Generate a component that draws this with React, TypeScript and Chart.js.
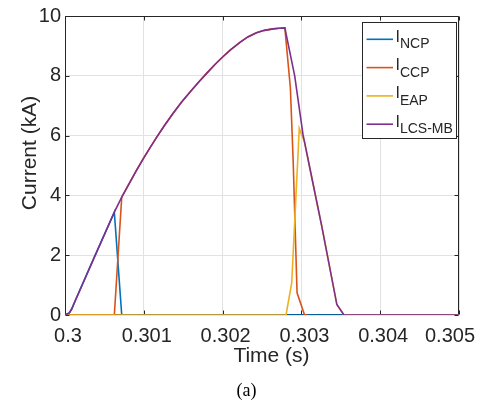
import React, { useEffect, useRef } from "react";
import { Chart, registerables } from "chart.js";

Chart.register(...registerables);

// ---- Data ----
const xTicks = [0.3, 0.301, 0.302, 0.303, 0.304, 0.305];
const xTickLabels = ["0.3", "0.301", "0.302", "0.303", "0.304", "0.305"];
const yTicks = [0, 2, 4, 6, 8, 10];

const legendMain = "I";
const seriesNames = ["NCP", "CCP", "EAP", "LCS-MB"];
const seriesColors = ["#0072BD", "#D95319", "#EDB120", "#7E2F8E"];

// common start of the current rise (all devices conducting)
const tStart = [0.3, 0.300055, 0.300085, 0.300127, 0.30036, 0.300626];
const iStart = [0, 0.07, 0.2, 0.46, 1.86, 3.44];

// common rising arc up to the peak
const tArc = [0.30072, 0.3008, 0.3009, 0.30099, 0.30108, 0.30116, 0.30126, 0.30137, 0.30148, 0.30159, 0.3017, 0.3018, 0.3019, 0.302, 0.3021, 0.30222, 0.30232, 0.30243, 0.30253, 0.30264, 0.30272, 0.30279];
const iArc = [3.94, 4.33, 4.8, 5.21, 5.6, 5.93, 6.33, 6.74, 7.12, 7.47, 7.8, 8.09, 8.37, 8.63, 8.87, 9.12, 9.3, 9.44, 9.52, 9.57, 9.59, 9.6];

// I_NCP (after the start)
const tNCPTail = [0.30072, 0.305];
const iNCPTail = [0, 0];

// I_CCP
const tCCPHead = [0.3, 0.300626];
const iCCPHead = [0, 0];
const tCCPTail = [0.30286, 0.302895, 0.302945, 0.30304, 0.30308];
const iCCPTail = [7.6, 5.2, 0.74, 0, 0];

// I_EAP
const tEAP = [0.3, 0.302805, 0.302877, 0.302973, 0.30304, 0.30314, 0.30326, 0.30345, 0.30354, 0.305];
const iEAP = [0, 0, 1.07, 6.24, 5.78, 4.49, 2.95, 0.35, 0, 0];

// I_LCS-MB (after the peak)
const tLCSTail = [0.302915, 0.30302, 0.30314, 0.30326, 0.30345, 0.30354, 0.305];
const iLCSTail = [8.0, 6.04, 4.49, 2.95, 0.35, 0, 0];

const xTitle = "Time (s)";
const yTitle = "Current (kA)";
const caption = "(a)";

const SANS = "'Liberation Sans', Arial, Helvetica, sans-serif";
const SERIF = "'Liberation Serif', 'Times New Roman', serif";
const INK = "#262626";

const toPts = (t: number[], v: number[]) => t.map((x, k) => ({ x, y: v[k] }));

const decorPlugin = {
  id: "decor",
  beforeDatasetsDraw(chart: any) {
    const { ctx, chartArea: a, scales } = chart;
    const L = Math.round(a.left) + 0.5;
    const R = Math.round(a.right) - 0.5;
    const T = Math.round(a.top) + 0.5;
    const B = Math.round(a.bottom) - 0.5;
    ctx.save();
    ctx.strokeStyle = INK;
    ctx.lineWidth = 1;
    ctx.beginPath();
    ctx.rect(L, T, R - L, B - T);
    xTicks.forEach((v) => {
      const p = Math.round(scales.x.getPixelForValue(v)) + 0.5;
      ctx.moveTo(p, B);
      ctx.lineTo(p, B - 4);
      ctx.moveTo(p, T);
      ctx.lineTo(p, T + 4);
    });
    yTicks.forEach((v) => {
      const p = Math.round(scales.y.getPixelForValue(v)) + 0.5;
      ctx.moveTo(L, p);
      ctx.lineTo(L + 4, p);
      ctx.moveTo(R, p);
      ctx.lineTo(R - 4, p);
    });
    ctx.stroke();
    ctx.restore();
  },
  afterDraw(chart: any) {
    const { ctx, scales, width } = chart;
    ctx.save();
    ctx.fillStyle = INK;
    // x tick labels
    ctx.font = `20px ${SANS}`;
    ctx.textBaseline = "alphabetic";
    ctx.textAlign = "center";
    xTicks.forEach((v, k) => {
      const label = xTickLabels[k];
      const w = ctx.measureText(label).width;
      let x = scales.x.getPixelForValue(v) + 3;
      if (x + w / 2 > width - 4) x = width - 4 - w / 2;
      ctx.fillText(label, x, 342);
    });
    // x title
    ctx.font = `21px ${SANS}`;
    ctx.fillText(xTitle, 271.5, 362);
    // y title
    ctx.save();
    ctx.translate(30.5, 153);
    ctx.rotate(-Math.PI / 2);
    ctx.textBaseline = "middle";
    ctx.fillText(yTitle, 0, 0);
    ctx.restore();
    // caption
    ctx.font = `18px ${SERIF}`;
    ctx.fillStyle = "#000";
    ctx.textBaseline = "alphabetic";
    ctx.fillText(caption, 246.5, 396);

    // legend
    const bx = 362.5, by = 22.5, bw = 94, bh = 116;
    ctx.fillStyle = "#fff";
    ctx.fillRect(bx, by, bw, bh);
    ctx.strokeStyle = INK;
    ctx.lineWidth = 1;
    ctx.strokeRect(bx, by, bw, bh);
    seriesNames.forEach((name, k) => {
      const y = 39.3 + k * 28.3;
      ctx.strokeStyle = seriesColors[k];
      ctx.lineWidth = 1.6;
      ctx.beginPath();
      ctx.moveTo(366.5, y);
      ctx.lineTo(393, y);
      ctx.stroke();
      ctx.fillStyle = INK;
      ctx.textAlign = "left";
      ctx.textBaseline = "alphabetic";
      ctx.font = `16px ${SANS}`;
      ctx.fillText(legendMain, 395.5, y + 2.5);
      const iw = ctx.measureText(legendMain).width;
      ctx.font = `14px ${SANS}`;
      ctx.fillText(name, 395.5 + iw, y + 9);
    });
    ctx.restore();
  },
};

export default function App() {
  const ref = useRef<HTMLCanvasElement | null>(null);

  useEffect(() => {
    if (!ref.current) return;
    const series = [
      { t: [...tStart, ...tNCPTail], v: [...iStart, ...iNCPTail] },
      { t: [...tCCPHead, ...tArc, ...tCCPTail], v: [...iCCPHead, ...iArc, ...iCCPTail] },
      { t: tEAP, v: iEAP },
      { t: [...tStart, ...tArc, ...tLCSTail], v: [...iStart, ...iArc, ...iLCSTail] },
    ];
    const chart = new Chart(ref.current, {
      type: "line",
      data: {
        datasets: series.map((s, k) => ({
          label: seriesNames[k],
          data: toPts(s.t, s.v),
          borderColor: seriesColors[k],
          backgroundColor: seriesColors[k],
          borderWidth: 1.6,
          pointRadius: 0,
          tension: 0,
          fill: false,
          order: 4 - k,
        })),
      },
      options: {
        animation: false,
        responsive: false,
        maintainAspectRatio: false,
        events: [],
        layout: { padding: { left: 0, top: 14, right: 20, bottom: 0 } },
        plugins: { legend: { display: false }, tooltip: { enabled: false } },
        scales: {
          x: {
            type: "linear",
            min: 0.3,
            max: 0.305,
            afterBuildTicks: (s: any) => {
              s.ticks = xTicks.map((value) => ({ value }));
            },
            afterFit: (s: any) => {
              s.height = 85;
            },
            ticks: { display: false },
            grid: { color: "#e2e2e2", lineWidth: 1, drawTicks: false },
            border: { display: false },
          },
          y: {
            type: "linear",
            min: 0,
            max: 10,
            afterBuildTicks: (s: any) => {
              s.ticks = yTicks.map((value) => ({ value }));
            },
            afterFit: (s: any) => {
              s.width = 65;
            },
            ticks: {
              color: INK,
              padding: 4,
              font: { family: SANS, size: 20 },
            },
            grid: { color: "#e2e2e2", lineWidth: 1, drawTicks: false },
            border: { display: false },
          },
        },
      },
      plugins: [decorPlugin],
    } as any);
    return () => chart.destroy();
  }, []);

  return (
    <div style={{ position: "absolute", left: 0, top: 0, width: 479, height: 400, background: "#fff" }}>
      <canvas ref={ref} width={479} height={400} style={{ width: 479, height: 400 }} />
    </div>
  );
}
